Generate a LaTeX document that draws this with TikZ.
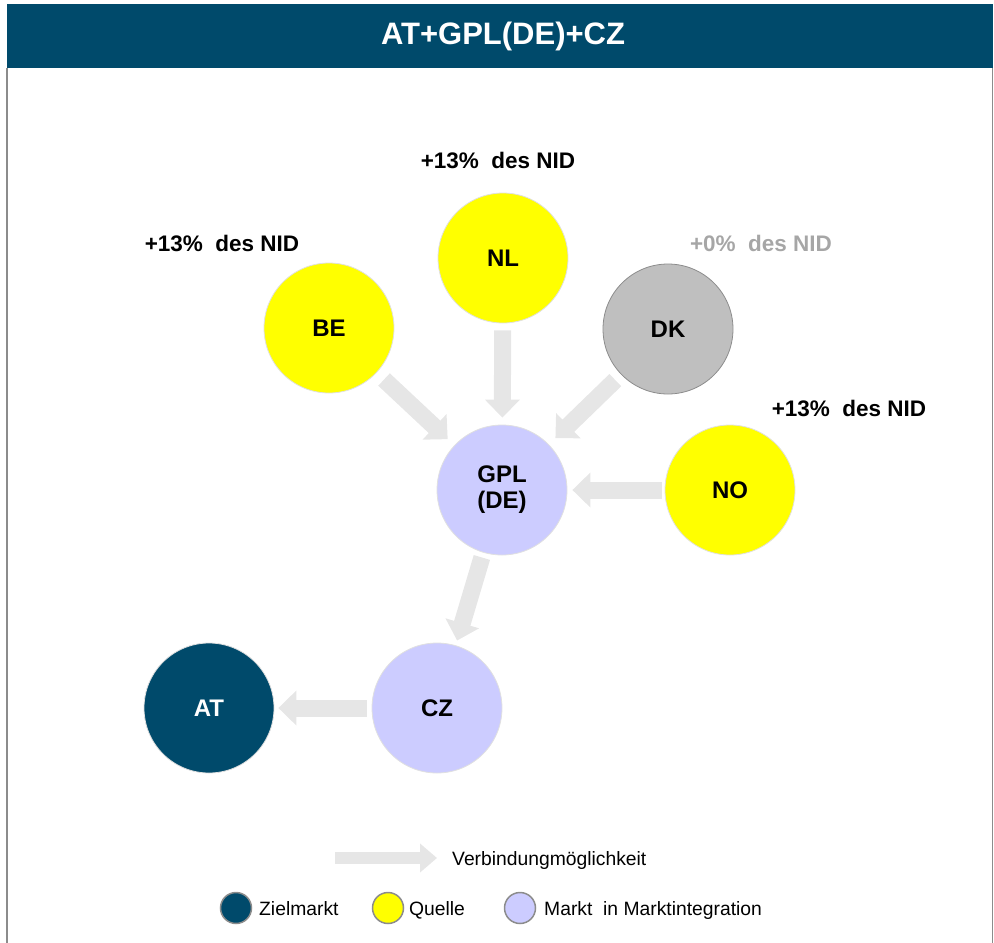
\documentclass[tikz,border=0pt]{standalone}
\usepackage{fontspec}
\setmainfont{Liberation Sans}
\usetikzlibrary{arrows.meta}

\definecolor{navy}{HTML}{004A6B}
\definecolor{srcyellow}{HTML}{FFFF00}
\definecolor{lavender}{HTML}{CCCCFF}
\definecolor{dkgray}{HTML}{BFBFBF}
\definecolor{arrowgray}{HTML}{E6E6E6}
\definecolor{framegray}{HTML}{8C8C8C}
\definecolor{zerogray}{HTML}{A6A6A6}

\tikzset{
  market/.style={circle, minimum size=130pt, inner sep=0pt, align=center,
    font=\fontsize{24pt}{26pt}\selectfont\bfseries},
  source/.style={market, fill=srcyellow, draw=black!12, line width=0.8pt},
  integ/.style={market, fill=lavender, draw=black!12, line width=0.8pt},
  target/.style={market, fill=navy, draw=black!12, line width=0.8pt, text=white},
  nosource/.style={market, fill=dkgray, draw=framegray, line width=0.8pt},
  share/.style={font=\fontsize{22.5pt}{24pt}\selectfont\bfseries},
  flow/.style={draw=arrowgray, line width=17pt,
    -{Triangle[width=34pt,length=18pt]}},
  legflow/.style={draw=arrowgray, line width=12pt,
    -{Triangle[width=28pt,length=17pt]}},
  legdot/.style={circle, minimum size=31pt, inner sep=0pt, draw=framegray, line width=1.5pt},
  legtext/.style={anchor=base west, inner sep=0pt, font=\fontsize{19.3pt}{22pt}\selectfont}
}

\begin{document}
\begin{tikzpicture}[x=1pt, y=-1pt]
  \useasboundingbox (0,0) rectangle (994,943);

  % frame and title bar
  \draw[framegray, line width=1.5pt] (7,68) -- (7,943);
  \draw[framegray, line width=1.5pt] (992.5,68) -- (992.5,943);
  \fill[navy] (7,4) rectangle (993,68);
  \node[text=white, font=\fontsize{31pt}{34pt}\selectfont\bfseries] (title) at (503,36) {AT+GPL(DE)+CZ};

  % markets
  \node[source]   (BE)  at (329,328) {BE};
  \node[source]   (NL)  at (503,258) {NL};
  \node[nosource] (DK)  at (668,329) {DK};
  \node[integ]    (GPL) at (502,490) {GPL\\(DE)};
  \node[source]   (NO)  at (730,490) {NO};
  \node[integ]    (CZ)  at (437,708) {CZ};
  \node[target]   (AT)  at (209,708) {AT};

  % share labels
  \node[share] (lBE) at (222,243) {+13\%\ \ des NID};
  \node[share] (lNL) at (498,160) {+13\%\ \ des NID};
  \node[share, text=zerogray] (lDK) at (761,243) {+0\%\ \ des NID};
  \node[share] (lNO) at (849,408) {+13\%\ \ des NID};

  % connection options
  \draw[flow, shorten <=10pt, shorten >=9pt] (BE) -- (GPL);
  \draw[flow, shorten <=7pt, shorten >=7pt] (NL) -- (GPL);
  \draw[flow, shorten <=8pt, shorten >=9pt] (DK) -- (GPL);
  \draw[flow, shorten <=3pt, shorten >=5pt] (NO) -- (GPL);
  \draw[flow, shorten <=5pt, shorten >=5pt] (GPL) -- (CZ);
  \draw[flow, shorten <=5pt, shorten >=4pt] (CZ) -- (AT);

  % legend
  \coordinate (la) at (335,858);
  \coordinate (lb) at (437,858);
  \draw[legflow] (la) -- (lb);
  \node[legtext] (tflow) at (452,865) {Verbindungmöglichkeit};

  \node[legdot, fill=navy]      (dZ) at (236,908) {};
  \node[legtext] (tZ) at (259,915) {Zielmarkt};
  \node[legdot, fill=srcyellow] (dQ) at (388,908) {};
  \node[legtext] (tQ) at (409,915) {Quelle};
  \node[legdot, fill=lavender]  (dM) at (520,908) {};
  \node[legtext] (tM) at (544,915) {Markt\ \ in Marktintegration};
\end{tikzpicture}
\end{document}
